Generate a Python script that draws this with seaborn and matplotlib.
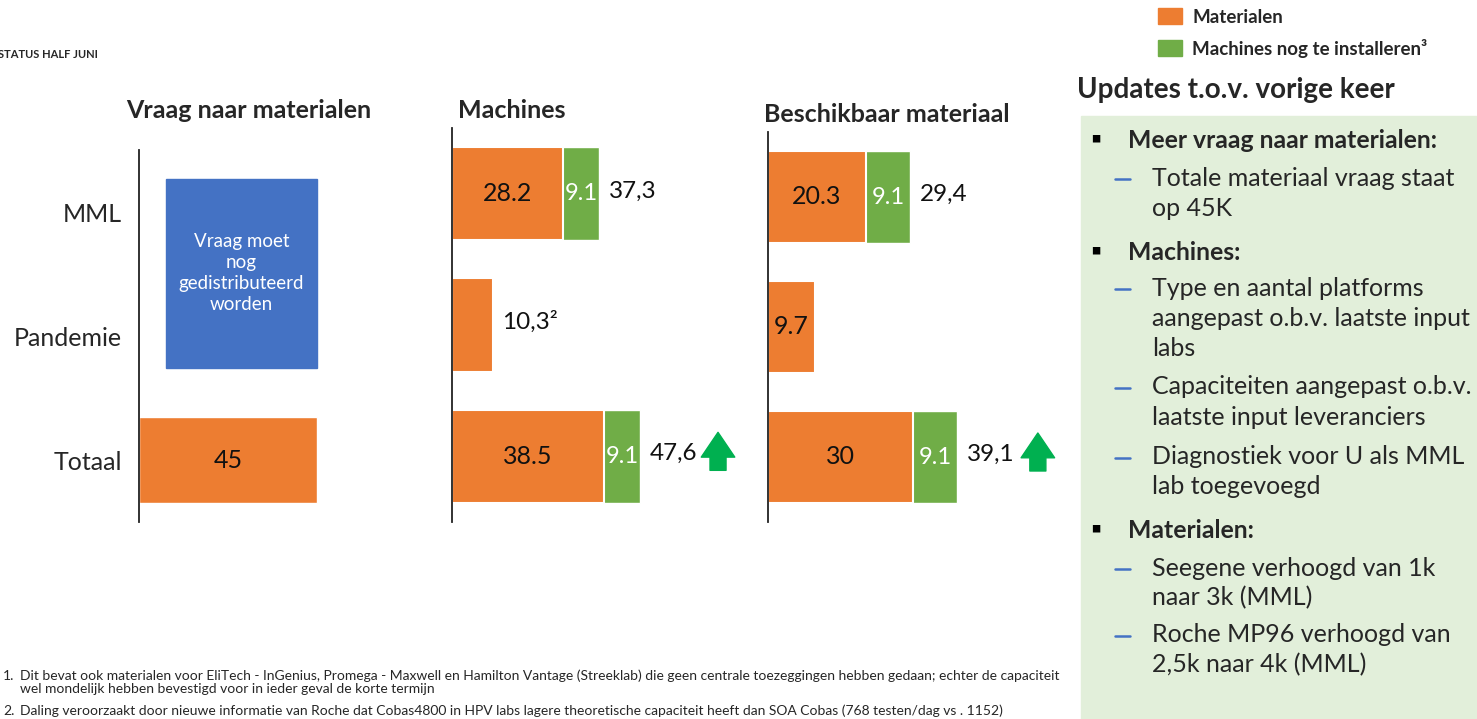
import numpy as np
import pandas as pd
import matplotlib
matplotlib.use("Agg")
import matplotlib.pyplot as plt
from matplotlib.patches import Rectangle, Patch
from matplotlib.lines import Line2D
from matplotlib.transforms import offset_copy
import seaborn as sns

# data
categories = ["MML", "Pandemie", "Totaal"]
vraag_totaal = [np.nan, np.nan, 45]
vraag_labels = ["", "", "45"]

machines_materialen = [28.2, 10.3, 38.5]
machines_installeren = [9.1, 0.0, 9.1]
machines_in_labels = ["28.2", "", "38.5"]
machines_totaal_labels = ["37,3", "10,3²", "47,6"]

beschikbaar_materialen = [20.3, 9.7, 30.0]
beschikbaar_installeren = [9.1, 0.0, 9.1]
beschikbaar_in_labels = ["20.3", "9.7", "30"]
beschikbaar_totaal_labels = ["29,4", "", "39,1"]

stijging = [False, False, True]

ORANJE = "#ED7D31"
GROEN = "#70AD47"
BLAUW = "#4472C4"
PIJL = "#00B050"
PANEEL = "#E2EFDA"

W, H = 1477, 719
sns.set_theme(style="white")
plt.rcParams["font.family"] = ["Lato", "DejaVu Sans"]

fig = plt.figure(figsize=(W / 100, H / 100), dpi=100)


def px_axes(x0, y0, x1, y1):
    return fig.add_axes([x0 / W, 1 - y1 / H, (x1 - x0) / W, (y1 - y0) / H])


def ftext(x, y, s, **kw):
    return fig.text(x / W, 1 - y / H, s, **kw)


def clean(ax, xmax):
    ax.set_xlim(0, xmax)
    ax.set_ylim(2.5, -0.5)
    for side in ["top", "right", "bottom"]:
        ax.spines[side].set_visible(False)
    ax.spines["left"].set_color("#222222")
    ax.spines["left"].set_linewidth(1.3)
    ax.set_xticks([])
    ax.set_xlabel("")
    ax.set_ylabel("")
    ax.patch.set_alpha(0)


# --- Vraag naar materialen ---
ax1 = px_axes(139, 150, 399, 522)
df_vraag = pd.DataFrame({"categorie": categories, "waarde": vraag_totaal}).dropna()
sns.barplot(data=df_vraag, x="waarde", y="categorie", order=categories,
            color=ORANJE, saturation=1, width=0.70, errorbar=None, ax=ax1)
clean(ax1, 260 / 3.96)
ax1.tick_params(axis="y", length=0, pad=12, labelsize=18)
for i, lab in enumerate(vraag_labels):
    if lab:
        ax1.text(vraag_totaal[i] / 2, i, lab, ha="center", va="center", fontsize=18, color="#111111")
# blue placeholder box for the not yet distributed demand
ax1.add_patch(Rectangle((6.8, -0.27), vraag_totaal[2] - 6.8, 1.53, color=BLAUW, zorder=2))
ax1.text((6.8 + vraag_totaal[2]) / 2, 0.49, "Vraag moet\nnog\ngedistributeerd\nworden",
         ha="center", va="center", color="white", fontsize=13.5, linespacing=1.28, zorder=3)


def stacked(ax, materialen, installeren, in_labels, tot_labels, xmax, pijl_dx):
    df = pd.DataFrame({"categorie": categories,
                       "materialen": materialen,
                       "totaal": np.array(materialen) + np.array(installeren)})
    sns.barplot(data=df, x="totaal", y="categorie", order=categories, color=GROEN,
                saturation=1, width=0.71, errorbar=None, ax=ax)
    sns.barplot(data=df, x="materialen", y="categorie", order=categories, color=ORANJE,
                saturation=1, width=0.71, errorbar=None, edgecolor="white", linewidth=1.5, ax=ax)
    clean(ax, xmax)
    ax.set_yticks([])
    for i in range(len(categories)):
        if in_labels[i]:
            ax.text(materialen[i] / 2, i, in_labels[i], ha="center", va="center",
                    fontsize=18, color="#111111")
        if installeren[i] > 0:
            ax.text(materialen[i] + installeren[i] / 2, i, f"{installeren[i]:.1f}",
                    ha="center", va="center", fontsize=17, color="white")
        tot = df["totaal"][i]
        if tot_labels[i]:
            ax.annotate(tot_labels[i], xy=(tot, i), xytext=(7, 2), textcoords="offset points",
                        ha="left", va="center", fontsize=17.5, color="#111111")
        if stijging[i]:
            top = offset_copy(ax.transData, fig=fig, x=pijl_dx, y=24, units="dots")
            bot = offset_copy(ax.transData, fig=fig, x=pijl_dx, y=-14, units="dots")
            ax.annotate("", xy=(tot, i), xycoords=top, xytext=(tot, i), textcoords=bot,
                        arrowprops=dict(arrowstyle="simple,head_length=0.85,head_width=1.15,tail_width=0.55",
                                        mutation_scale=21, color=PIJL, shrinkA=0, shrinkB=0))


ax2 = px_axes(452, 128, 752, 522)
stacked(ax2, machines_materialen, machines_installeren, machines_in_labels,
        machines_totaal_labels, 300 / 3.95, 78)

ax3 = px_axes(768, 132, 1068, 522)
stacked(ax3, beschikbaar_materialen, beschikbaar_installeren, beschikbaar_in_labels,
        beschikbaar_totaal_labels, 300 / 4.83, 81)

# titles
ftext(249, 111, "Vraag naar materialen", ha="center", va="center", fontsize=18, weight="bold")
ftext(458, 110, "Machines", ha="left", va="center", fontsize=18, weight="bold")
ftext(764, 115, "Beschikbaar materiaal", ha="left", va="center", fontsize=18, weight="bold")
ftext(-2, 55, "STATUS HALF JUNI", ha="left", va="center", fontsize=8, weight="bold")

# legend
fig.legend(handles=[Patch(color=ORANJE, label="Materialen"),
                    Patch(color=GROEN, label="Machines nog te installeren³")],
           loc="upper left", bbox_to_anchor=(1158 / W, 1 - 8 / H), frameon=False,
           borderpad=0, borderaxespad=0,
           handlelength=1.28, handleheight=0.96, handletextpad=0.55, labelspacing=0.7,
           prop={"size": 13.5, "weight": "bold"})

# updates panel
ftext(1077, 90, "Updates t.o.v. vorige keer", ha="left", va="center", fontsize=20, weight="bold")
fig.add_artist(Rectangle((1081 / W, 0), (W - 1081) / W, 1 - 116 / H,
                         transform=fig.transFigure, color=PANEEL, zorder=0))

koppen = [("Meer vraag naar materialen:", 140), ("Machines:", 252), ("Materialen:", 530)]
punten = [("Totale materiaal vraag staat\nop 45K", 178),
          ("Type en aantal platforms\naangepast o.b.v. laatste input\nlabs", 288),
          ("Capaciteiten aangepast o.b.v.\nlaatste input leveranciers", 387),
          ("Diagnostiek voor U als MML\nlab toegevoegd", 457),
          ("Seegene verhoogd van 1k\nnaar 3k (MML)", 568),
          ("Roche MP96 verhoogd van\n2,5k naar 4k (MML)", 635)]
for tekst, y in koppen:
    ftext(1096, y, "▪", ha="center", va="center", fontsize=20, color="black")
    ftext(1128, y, tekst, ha="left", va="center", fontsize=17.8, weight="bold")
for tekst, y in punten:
    fig.add_artist(Line2D([1115 / W, 1130 / W], [1 - (y + 1) / H] * 2, color=BLAUW, lw=1.8))
    for k, regel in enumerate(tekst.split("\n")):
        ftext(1152, y + 30 * k, regel, ha="left", va="center", fontsize=18)

# footnotes
voet = 10
ftext(3, 676, "1.", ha="left", va="center", fontsize=voet)
ftext(20, 676, "Dit bevat ook materialen voor EliTech - InGenius, Promega - Maxwell en Hamilton Vantage "
               "(Streeklab) die geen centrale toezeggingen hebben gedaan; echter de capaciteit",
      ha="left", va="center", fontsize=voet)
ftext(20, 689, "wel mondelijk hebben bevestigd voor in ieder geval de korte termijn",
      ha="left", va="center", fontsize=voet)
ftext(3, 711, "2.", ha="left", va="center", fontsize=voet)
ftext(20, 711, "Daling veroorzaakt door nieuwe informatie van Roche dat Cobas4800 in HPV labs lagere "
               "theoretische capaciteit heeft dan SOA Cobas (768 testen/dag vs . 1152)",
      ha="left", va="center", fontsize=voet)

fig.savefig("out.png", dpi=100)
